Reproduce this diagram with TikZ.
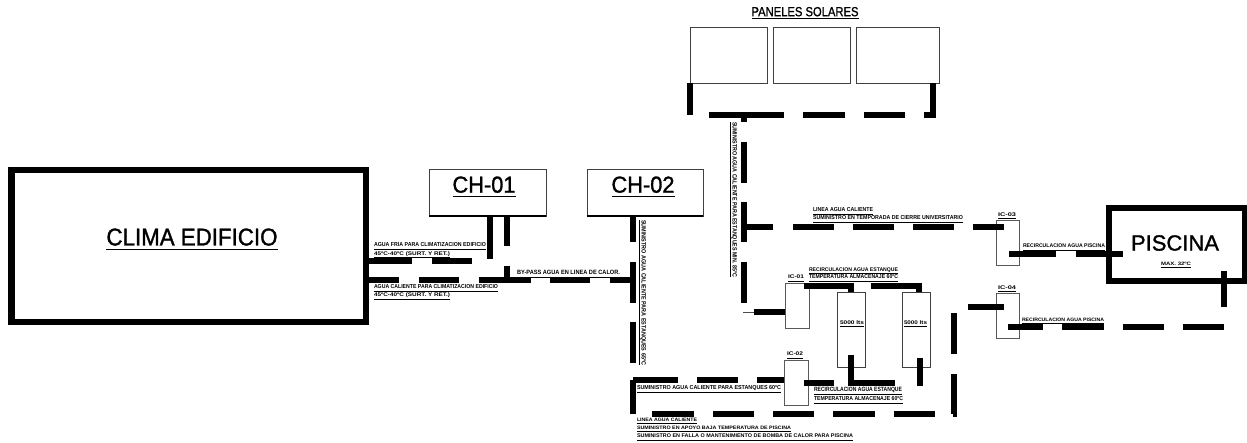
\documentclass[tikz,border=0pt]{standalone}
\usepackage{graphicx}
\usepackage{fontspec}
\setmainfont{Liberation Sans}
\newfontfamily\heavyfont[FakeBold=1.3]{Liberation Sans}
\newcommand\cadtxt[3]{\resizebox*{#1pt}{#2pt}{\underline{\vphantom{(}\bfseries #3}}}
\newcommand\bigtxt[3]{\resizebox*{#1pt}{#2pt}{\underline{\heavyfont #3}}}
\tikzset{
  x=1pt,y=-1pt,
  heavybox/.style={draw=black,line width=6.5pt,inner sep=0pt,outer sep=0pt},
  thinbox/.style={draw=black!75,line width=1pt,inner sep=0pt,outer sep=0pt},
  panelbox/.style={draw=black!75,line width=1pt,inner sep=0pt,outer sep=0pt,minimum height=56pt},
  tagbox/.style={draw=black!65,line width=1pt,inner sep=0pt,outer sep=0pt,minimum width=24pt,minimum height=45pt},
  tankbox/.style={draw=black!75,line width=1pt,inner sep=0pt,outer sep=0pt,minimum width=28pt,minimum height=75pt},
  txt/.style={inner sep=0pt,outer sep=0pt,text=black},
  pipe/.style={draw=black,line width=6pt,line cap=butt,line join=miter},
  thinpipe/.style={draw=black!70,line width=1pt},
}
\begin{document}
\begin{tikzpicture}
\useasboundingbox (0,0) rectangle (1247,442);
% main boxes
\node[heavybox,minimum width=354.5pt,minimum height=152pt] (clima) at (188.5,246) {};
\node[heavybox,line width=6pt,minimum width=136pt,minimum height=73pt] (piscina) at (1177,244) {};
\node[thinbox,minimum width=117pt,minimum height=47pt] (ch1) at (487.5,192.5) {};
\node[thinbox,minimum width=116pt,minimum height=47pt] (ch2) at (645,192.5) {};
\draw[black,line width=2.5pt] (ch1.south west) -- (ch1.south east);
\draw[black,line width=2.5pt] (ch2.south west) -- (ch2.south east);
% panels
\node[panelbox,minimum width=77pt] (p1) at (728.5,55) {};
\node[panelbox,minimum width=77pt] (p2) at (811.5,55) {};
\node[panelbox,minimum width=83pt] (p3) at (897.5,55) {};
% exchangers and tanks
\node[tagbox] (ic1) at (797,305.5) {};
\node[tagbox] (ic2) at (796,382.5) {};
\node[tagbox,minimum width=23pt] (ic3) at (1007.5,243) {};
\node[tagbox,minimum width=23pt] (ic4) at (1007.5,315.5) {};
\node[tankbox] (t1) at (851,329.5) {};
\node[tankbox] (t2) at (916,329.5) {};
% free ends
\coordinate (c1) at (472,261);
\coordinate (c2) at (633,280);
\coordinate (c3) at (490,259);
\coordinate (c4) at (507,280);
\coordinate (c5) at (633,364);
\coordinate (c6) at (633,380);
\coordinate (c7) at (633,414);
\coordinate (c8) at (954,414);
\coordinate (c9) at (954,307);
\coordinate (c10) at (744,115);
\coordinate (c11) at (744,303);
\coordinate (c12) at (744,227);
\coordinate (c13) at (743,312);
\coordinate (c14) at (754,312);
\coordinate (c15) at (851,383);
\coordinate (c16) at (895,383);
\coordinate (c17) at (1223.5,327);
\coordinate (c18) at (690,115);
\coordinate (c19) at (933,115);
\coordinate (c20) at (919.5,358);
\coordinate (c21) at (919.5,386);
\coordinate (c22) at (804,383);
\coordinate (c23) at (804,286);
\coordinate (c24) at (851,286);
\coordinate (c25) at (871,286);
\coordinate (c26) at (919,286);
\coordinate (c27) at (851,355);
\coordinate (c28) at (1009,254);
\coordinate (c29) at (1123,254);
\coordinate (c30) at (1223.5,271);
\coordinate (c31) at (1004,227);
% pipes
\draw[pipe,dash pattern=on 46pt off 20pt on 40pt off 200pt] (clima.east |- c1) -- (c1);
\draw[pipe,dash pattern=on 33pt off 20pt on 40pt off 20pt on 52pt off 19pt on 40pt off 20pt on 30pt off 100pt] (clima.east |- c2) -- (c2);
\draw[pipe] (ch1.south -| c3) -- (c3);
\draw[pipe,dash pattern=on 30pt off 20pt on 20pt off 100pt] (ch1.south -| c4) -- (c4);
\draw[pipe,dash pattern=on 26pt off 20pt on 41pt off 19pt on 41pt off 100pt] (ch2.south -| c5) -- (c5);
\draw[pipe,dash pattern=on 45pt off 19pt on 41pt off 19pt on 40pt off 100pt] (c6) -- (ic2.west |- c6);
\draw[pipe,dash pattern=on 34pt off 19pt on 42pt off 19pt on 41pt off 19pt on 41pt off 19pt on 42pt off 19pt on 41pt off 18pt on 41pt off 20pt on 41pt off 20pt on 36pt off 100pt]
  (c6) -- (c7) -- (c8) -- (c9) -- (ic4.center |- c9);
\draw[pipe,dash pattern=on 30pt off 100pt] (c22) -- (c15);
\draw[pipe] (c27) -- (c15) -- (c16);
\draw[pipe] (c20) -- (c21);
\draw[pipe] (c23) -- (c24) -- (t1.north -| c24);
\draw[pipe] (c25) -- (c26) -- (t2.north -| c26);
\draw[pipe,dash pattern=on 7pt off 20pt on 41pt off 19pt on 40pt off 20pt on 41pt off 100pt] (c10) -- (c11);
\draw[thinpipe] (c13) -- (c14);
\draw[pipe] (c14) -- (ic1.west |- c14);
\draw[pipe,dash pattern=on 29pt off 20pt on 41pt off 19pt on 41pt off 19pt on 41pt off 19pt on 31pt off 100pt] (c12) -- (c31);
\draw[pipe,dash pattern=on 47pt off 20pt on 47pt off 100pt] (c28) -- (c29);
\draw[pipe,dash pattern=on 36pt off 20pt on 41pt off 19pt on 41pt off 19pt on 42pt off 19pt on 36pt off 100pt]
  (c30) -- (c17) -- (ic4.center |- c17);
\draw[pipe,dash pattern=on 32pt off 19pt on 75pt off 19pt on 42pt off 19pt on 41pt off 19pt on 41pt off 100pt]
  (p1.south west) -- (c18) -- (c19) -- (p3.south east -| c19);
% big texts
\node[txt] (tclima) at (192,239.5) {\bigtxt{171}{22}{CLIMA EDIFICIO}};
\node[txt] (tch1) at (484,187) {\bigtxt{63}{21}{CH-01}};
\node[txt] (tch2) at (643,187) {\bigtxt{63}{21}{CH-02}};
\node[txt] (tpan) at (805,13) {\bigtxt{107}{12}{PANELES SOLARES}};
\node[txt,font=\fontsize{22}{24}\selectfont\heavyfont] (tpis) at (1175,243) {PISCINA};
% small labels
\node[txt] (l1) at (430,246) {\cadtxt{112}{6.5}{AGUA FRIA PARA CLIMATIZACION EDIFICIO}};
\node[txt] (l2) at (412,254.5) {\cadtxt{76}{6}{45ºC-40ºC (SURT. Y RET.)}};
\node[txt] (l3) at (436,288) {\cadtxt{124}{6.5}{AGUA CALIENTE PARA CLIMATIZACION EDIFICIO}};
\node[txt] (l4) at (412,296) {\cadtxt{76}{6}{45ºC-40ºC (SURT. Y RET.)}};
\node[txt] (l5) at (568.5,273.5) {\cadtxt{103}{7}{BY-PASS AGUA EN LINEA DE CALOR.}};
\node[txt,rotate=-90] (l6) at (733.5,199.5) {\cadtxt{155}{7}{SUMINISTRO AGUA CALIENTE PARA ESTANQUES MIN. 85ºC}};
\node[txt,rotate=-90] (l7) at (642.5,292.5) {\cadtxt{145}{7}{SUMINISTRO AGUA CALIENTE PARA ESTANQUES 65ºC}};
\node[txt] (l8) at (843,211) {\cadtxt{60}{6.5}{LINEA AGUA CALIENTE}};
\node[txt] (l9) at (888,219) {\cadtxt{150}{6.5}{SUMINISTRO EN TEMPORADA DE CIERRE UNIVERSITARIO}};
\node[txt] (l10) at (853.5,270.5) {\cadtxt{89}{6}{RECIRCULACION AGUA ESTANQUE}};
\node[txt] (l11) at (853.5,278) {\cadtxt{89}{6.5}{TEMPERATURA ALMACENAJE 60ºC}};
\node[txt] (l12) at (796,278) {\cadtxt{16}{6}{IC-01}};
\node[txt] (l13) at (795,355) {\cadtxt{16}{6}{IC-02}};
\node[txt] (l14) at (1007,215.5) {\cadtxt{18}{6}{IC-03}};
\node[txt] (l15) at (1007,288.5) {\cadtxt{18}{6}{IC-04}};
\node[txt] (l16) at (852,323.5) {\cadtxt{24}{6}{5000 lts}};
\node[txt] (l17) at (915.5,323.5) {\cadtxt{23}{6}{5000 lts}};
\node[txt] (l18) at (709,389) {\cadtxt{144}{6.5}{SUMINISTRO AGUA CALIENTE PARA ESTANQUES 60ºC}};
\node[txt] (l19) at (858,390.5) {\cadtxt{88}{7}{RECIRCULACION AGUA ESTANQUE}};
\node[txt] (l20) at (858.5,400) {\cadtxt{89}{6.5}{TEMPERATURA ALMACENAJE 60ºC}};
\node[txt] (l21) at (667,420.5) {\cadtxt{60}{5.5}{LINEA AGUA CALIENTE}};
\node[txt] (l22) at (714,428.5) {\cadtxt{154}{5.5}{SUMINISTRO EN APOYO BAJA TEMPERATURA DE PISCINA}};
\node[txt] (l23) at (745,437) {\cadtxt{216}{6}{SUMINISTRO EN FALLA O MANTENIMIENTO DE BOMBA DE CALOR PARA PISCINA}};
\node[txt] (l24) at (1064,247) {\cadtxt{82}{6}{RECIRCULACION AGUA PISCINA}};
\node[txt] (l25) at (1063,320.5) {\cadtxt{82}{5.5}{RECIRCULACION AGUA PISCINA}};
\node[txt] (l26) at (1176,264.5) {\cadtxt{30}{5.5}{MAX. 32ºC}};
\end{tikzpicture}
\end{document}
